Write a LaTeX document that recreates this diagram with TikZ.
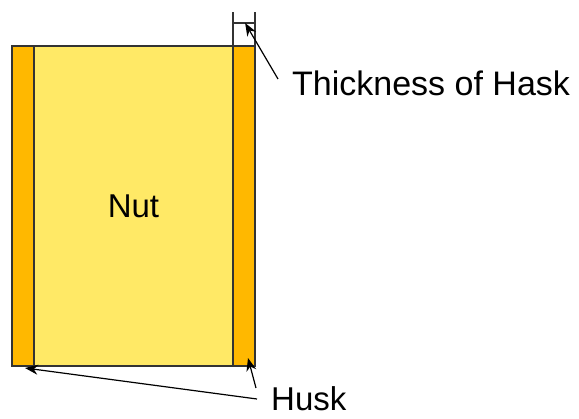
\documentclass[tikz,border=0pt]{standalone}
\usepackage{fontspec}
\setmainfont{Liberation Sans}
\usetikzlibrary{arrows.meta, positioning, calc}
\definecolor{nutyellow}{RGB}{255, 233, 102}
\definecolor{huskorange}{RGB}{255, 184, 0}
\definecolor{edgegray}{RGB}{51, 51, 51}

\begin{document}
\begin{tikzpicture}[x=1pt, y=-1pt,
        husk/.style={rectangle, draw=edgegray, line width=1.5pt, fill=huskorange, minimum width=22pt, minimum height=320pt, inner sep=0pt, outer sep=0pt},
        nutbox/.style={rectangle, draw=edgegray, line width=1.5pt, fill=nutyellow, minimum width=199pt, minimum height=320pt, inner sep=0pt, outer sep=0pt, font=\fontsize{33}{40}\selectfont},
        lbl/.style={anchor=base west, inner sep=0pt, font=\fontsize{33}{40}\selectfont},
        arr/.style={-{Stealth[length=13pt, width=10pt]}, line width=1.2pt},
        dim/.style={line width=1.2pt, draw=edgegray}
    ]
        \useasboundingbox (0,0) rectangle (579,419);

        % nut with husk on both sides
        \node[husk] (hl) at (23,206) {};
        \node[nutbox, right=0pt of hl] (nut) {Nut};
        \node[husk, right=0pt of nut] (hr) {};

        % dimension of the husk
        \coordinate[above=34pt of hr.north west] (el);
        \coordinate[above=34pt of hr.north east] (er);
        \coordinate[above=23pt of hr.north west] (ml);
        \coordinate[above=23pt of hr.north east] (mr);
        \draw[dim] (hr.north west) -- (el);
        \draw[dim] (hr.north east) -- (er);
        \draw[dim] (ml) -- (mr);

        % labels
        \node[lbl, font=\fontsize{34}{40}\selectfont] (thick) at (292,96) {Thickness of Hask};
        \node[lbl] (husklbl) at (271,411) {Husk};

        \coordinate (ts) at (278,79);
        \coordinate (hs1) at (257,399);
        \coordinate (hs2) at (256,388);
        \draw[arr] (ts) -- ($(ml)!0.55!(mr)$);
        \draw[arr] (hs1) -- ([shift={(2pt,-2pt)}]hl.south);
        \draw[arr] (hs2) -- ([shift={(4pt,8pt)}]hr.south);
    \end{tikzpicture}
\end{document}
